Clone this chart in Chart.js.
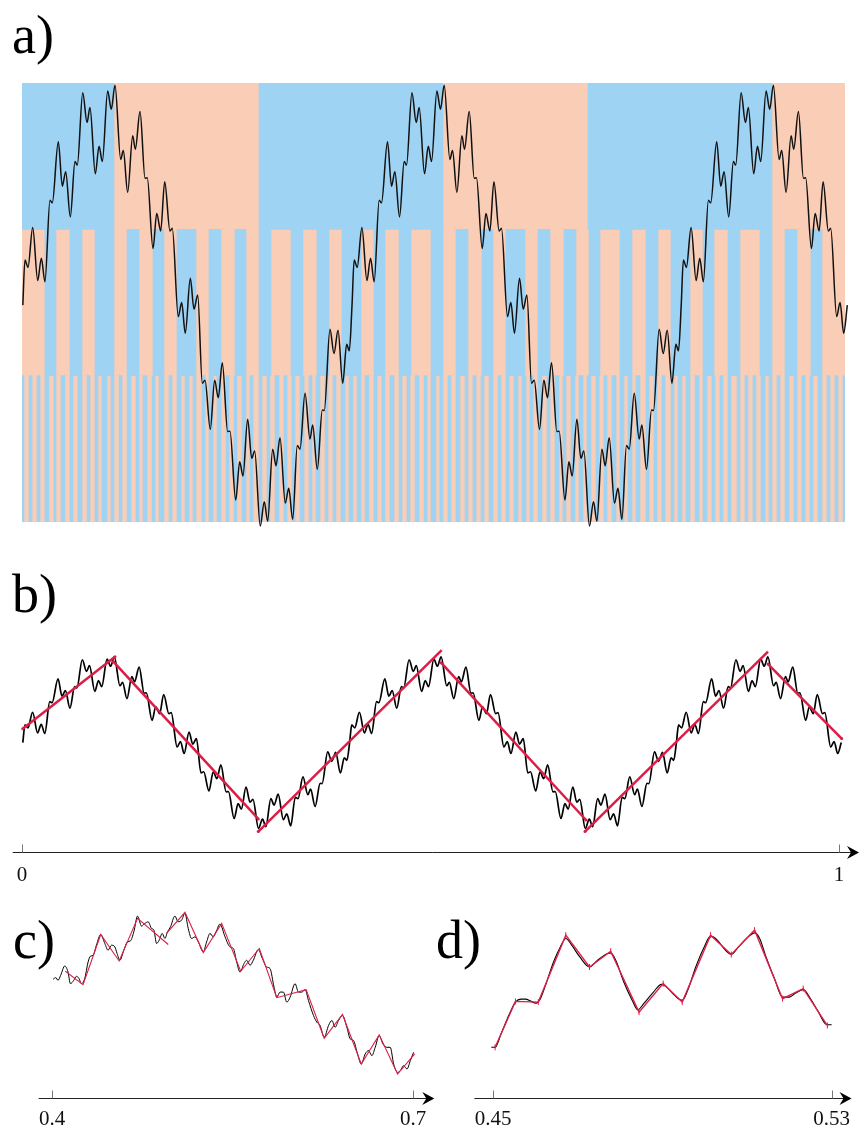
<!DOCTYPE html>
<html>
<head>
<meta charset="utf-8">
<script src="https://cdn.jsdelivr.net/npm/chart.js@4.4.1/dist/chart.umd.min.js"></script>
<style>
  body { margin: 0; width: 859px; height: 1132px; background: #fff; position: relative; overflow: hidden; font-family: 'Liberation Serif', 'Times New Roman', serif; }
  .box { position: absolute; }
  .lab { position: absolute; font-size: 54px; line-height: 54px; color: #000; }
</style>
</head>
<body>
<div class="lab" style="left:12px;top:8px">a)</div>
<div class="lab" style="left:12px;top:567px">b)</div>
<div class="lab" style="left:13px;top:913px">c)</div>
<div class="lab" style="left:436px;top:913px">d)</div>

<div class="box" style="left:12px;top:73px;width:845px;height:460px"><canvas id="bands"></canvas></div>
<div class="box" style="left:12px;top:73px;width:845px;height:460px"><canvas id="curveA"></canvas></div>
<div class="box" style="left:0px;top:630px;width:859px;height:269px"><canvas id="curveB"></canvas></div>
<div class="box" style="left:0px;top:880px;width:440px;height:261px"><canvas id="zoomC"></canvas></div>
<div class="box" style="left:440px;top:880px;width:419px;height:261px"><canvas id="zoomD"></canvas></div>

<script>
// the signal, read off panels a) and b)
const curveX = [
  0.001,0.0036,0.0073,0.0130,0.0191,0.0235,0.0279,0.0340,0.0368,0.0441,
  0.0490,0.0531,0.0587,0.0644,0.0672,0.0738,0.0790,0.0826,0.0891,0.0936,
  0.0976,0.1041,0.1085,0.1130,0.1199,0.1231,0.1284,0.1345,0.1377,0.1434,
  0.1495,0.1522,0.1592,0.1637,0.1685,0.1734,0.1798,0.1826,0.1899,0.1940,
  0.1984,0.2045,0.2090,0.2135,0.2191,0.2224,0.2288,0.2341,0.2385,0.2434,
  0.2499,0.2527,0.2597,0.2645,0.2685,0.2742,0.2791,0.2827,0.2895,0.2944,
  0.2985,0.3046,0.3086,0.3135,0.3199,0.3241,0.3289,0.3345,0.3378,0.3439,
  0.3499,0.3532,0.3588,0.3649,0.3673,0.3742,0.3791,0.3840,0.3897,0.3945,
  0.3977,
  0.401,0.4036,0.4073,0.4130,0.4191,0.4235,0.4279,0.4340,0.4368,0.4441,
  0.4490,0.4531,0.4587,0.4644,0.4672,0.4738,0.4790,0.4826,0.4891,0.4936,
  0.4976,0.5041,0.5085,0.5130,0.5199,0.5231,0.5284,0.5345,0.5377,0.5434,
  0.5495,0.5522,0.5592,0.5637,0.5685,0.5734,0.5798,0.5826,0.5899,0.5940,
  0.5984,0.6045,0.6090,0.6135,0.6191,0.6224,0.6288,0.6341,0.6385,0.6434,
  0.6499,0.6527,0.6597,0.6645,0.6685,0.6742,0.6791,0.6827,0.6895,0.6944,
  0.6985,0.7046,0.7086,0.7135,0.7199,0.7241,0.7289,0.7345,0.7378,0.7439,
  0.7499,0.7532,0.7588,0.7649,0.7673,0.7742,0.7791,0.7840,0.7897,0.7945,
  0.7977,
  0.801,0.8036,0.8073,0.8130,0.8191,0.8235,0.8279,0.8340,0.8368,0.8441,
  0.8490,0.8531,0.8587,0.8644,0.8672,0.8738,0.8790,0.8826,0.8891,0.8936,
  0.8976,0.9041,0.9085,0.9130,0.9199,0.9231,0.9284,0.9345,0.9377,0.9434,
  0.9495,0.9522,0.9592,0.9637,0.9685,0.9734,0.9798,0.9826,0.9899,0.9940,
  0.9984,1.0028
];
const curveY = [
  0.494,0.597,0.580,0.671,0.550,0.601,0.547,0.733,0.727,0.866,
  0.765,0.798,0.695,0.821,0.813,0.978,0.910,0.944,0.793,0.856,
  0.821,0.982,0.940,0.995,0.826,0.846,0.751,0.880,0.849,0.935,
  0.783,0.784,0.623,0.703,0.663,0.775,0.663,0.669,0.468,0.500,
  0.430,0.555,0.485,0.517,0.316,0.323,0.211,0.323,0.283,0.363,
  0.206,0.207,0.050,0.137,0.105,0.234,0.145,0.162,-0.009,0.046,
  0.002,0.166,0.128,0.192,0.043,0.077,0.006,0.174,0.166,0.293,
  0.189,0.221,0.120,0.255,0.254,0.439,0.384,0.437,0.316,0.405,
  0.390,
  0.494,0.597,0.580,0.671,0.550,0.601,0.547,0.733,0.727,0.866,
  0.765,0.798,0.695,0.821,0.813,0.978,0.910,0.944,0.793,0.856,
  0.821,0.982,0.940,0.995,0.826,0.846,0.751,0.880,0.849,0.935,
  0.783,0.784,0.623,0.703,0.663,0.775,0.663,0.669,0.468,0.500,
  0.430,0.555,0.485,0.517,0.316,0.323,0.211,0.323,0.283,0.363,
  0.206,0.207,0.050,0.137,0.105,0.234,0.145,0.162,-0.009,0.046,
  0.002,0.166,0.128,0.192,0.043,0.077,0.006,0.174,0.166,0.293,
  0.189,0.221,0.120,0.255,0.254,0.439,0.384,0.437,0.316,0.405,
  0.390,
  0.494,0.597,0.580,0.671,0.550,0.601,0.547,0.733,0.727,0.866,
  0.765,0.798,0.695,0.821,0.813,0.978,0.910,0.944,0.793,0.856,
  0.821,0.982,0.940,0.995,0.826,0.846,0.751,0.880,0.849,0.935,
  0.783,0.784,0.623,0.703,0.663,0.775,0.663,0.669,0.468,0.500,
  0.430,0.494
];

// rising intervals (blue) per level in panel a); the rest is orange
const topBlue = [[0, 0.1118], [0.288, 0.5115], [0.6877, 0.9113]];
const midBlue = [
  [0.0279,0.0413],[0.0583,0.0729],[0.0887,0.1118],[0.1276,0.1422],[0.1592,0.1725],
  [0.1883,0.2114],[0.2272,0.2418],[0.2588,0.2722],[0.2880,0.3026],[0.3269,0.3414],
  [0.3584,0.3730],[0.3888,0.4119],[0.4277,0.4411],[0.4581,0.4727],[0.4970,0.5115],
  [0.5273,0.5419],[0.5589,0.5723],[0.5881,0.6112],[0.6270,0.6416],[0.6586,0.6731],
  [0.6890,0.7023],[0.7266,0.7412],[0.7582,0.7728],[0.7886,0.8117],[0.8275,0.8408],
  [0.8578,0.8724],[0.8967,0.9113],[0.9271,0.9417],[0.9587,0.9720]
];
const lowBlue = [
  [0,0.0024],[0.0085,0.0122],[0.0182,0.0219],[0.0279,0.0328],[0.0389,0.0413],
  [0.0474,0.0522],[0.0583,0.0620],[0.0680,0.0729],[0.0790,0.0826],[0.0887,0.0923],
  [0.0972,0.1033],[0.1081,0.1118],[0.1179,0.1215],[0.1276,0.1324],[0.1385,0.1422],
  [0.1470,0.1519],[0.1580,0.1616],[0.1665,0.1725],[0.1786,0.1823],[0.1883,0.1932],
  [0.1981,0.2029],[0.2078,0.2114],[0.2187,0.2224],[0.2272,0.2321],[0.2369,0.2418],
  [0.2479,0.2515],[0.2576,0.2612],[0.2673,0.2722],[0.2770,0.2807],[0.2880,0.2916],
  [0.2977,0.3013],[0.3074,0.3123],[0.3184,0.3220],[0.3281,0.3317],[0.3378,0.3427],
  [0.3487,0.3524],[0.3572,0.3621],[0.3682,0.3718],[0.3779,0.3815],[0.3876,0.3925],
  [0.3973,0.4022],[0.4071,0.4119],[0.4168,0.4216],[0.4277,0.4314],[0.4374,0.4411],
  [0.4472,0.4520],[0.4581,0.4617],[0.4678,0.4714],[0.4775,0.4824],[0.4885,0.4921],
  [0.4970,0.5030],[0.5079,0.5115],[0.5176,0.5213],[0.5273,0.5322],[0.5383,0.5419],
  [0.5480,0.5517],[0.5577,0.5614],[0.5675,0.5723],[0.5784,0.5820],[0.5881,0.5918],
  [0.5978,0.6027],[0.6075,0.6124],[0.6173,0.6209],[0.6270,0.6318],[0.6379,0.6416],
  [0.6476,0.6525],[0.6573,0.6610],[0.6671,0.6719],[0.6768,0.6817],[0.6865,0.6914],
  [0.6975,0.7011],[0.7072,0.7108],[0.7169,0.7218],[0.7266,0.7315],[0.7363,0.7412],
  [0.7461,0.7509],[0.7582,0.7619],[0.7679,0.7716],[0.7776,0.7813],[0.7886,0.7922],
  [0.7971,0.8019],[0.8068,0.8117],[0.8177,0.8226],[0.8275,0.8323],[0.8384,0.8420],
  [0.8481,0.8518],[0.8578,0.8615],[0.8688,0.8724],[0.8785,0.8821],[0.8882,0.8918],
  [0.8979,0.9028],[0.9077,0.9113],[0.9174,0.9210],[0.9271,0.9320],[0.9380,0.9417],
  [0.9477,0.9514],[0.9575,0.9611],[0.9672,0.9720],[0.9781,0.9818],[0.9878,0.9915],
  [0.9976,1.0]
];
const rows = ['top', 'mid', 'bot'];

// piecewise linear fit in b)
const redBX = [[0.0009,0.1138],[0.1118,0.2892],[0.2892,0.5137],[0.5129,0.6903],[0.6891,0.9131],[0.9131,1.0033]];
const redBY = [[0.574,0.996],[0.967,0.047],[-0.027,1.035],[0.961,0.041],[-0.027,1.025],[0.953,0.517]];

// zoom c) on [0.4, 0.7]
const cCurveX = [
  0.4009,0.4031,0.4050,0.4072,0.4106,0.4133,0.4153,0.4181,0.4203,0.4225,
  0.4244,0.4272,0.4300,0.4319,0.4342,0.4369,0.4405,0.4439,0.4466,0.4494,
  0.4522,0.4541,0.4564,0.4597,0.4627,0.4652,0.4680,0.4711,0.4744,0.4772,
  0.4799,0.4827,0.4847,0.4869,0.4891,0.4916,0.4938,0.4960,0.4985,0.5021,
  0.5049,0.5077,0.5105,0.5132,0.5160,0.5188,0.5216,0.5257,0.5285,0.5313,
  0.5340,0.5363,0.5396,0.5438,0.5479,0.5507,0.5535,0.5562,0.5596,0.5618,
  0.5646,0.5673,0.5715,0.5743,0.5784,0.5812,0.5845,0.5868,0.5895,0.5923,
  0.5951,0.5979,0.6020,0.6048,0.6076,0.6104,0.6131,0.6173,0.6201,0.6228,
  0.6262,0.6298,0.6326,0.6353,0.6381,0.6414,0.6450,0.6478,0.6506,0.6539,
  0.6570,0.6603,0.6631,0.6658,0.6686,0.6719,0.6750,0.6783,0.6811,0.6839,
  0.6872,0.6894,0.6922,0.6950,0.6978,0.7005
];
const cCurveY = [
  1.18,1.197,1.17,1.22,1.313,1.253,1.137,1.17,1.21,1.187,
  1.137,1.187,1.353,1.41,1.42,1.52,1.627,1.537,1.47,1.52,
  1.503,1.437,1.37,1.47,1.553,1.563,1.653,1.81,1.71,1.737,
  1.753,1.687,1.67,1.537,1.57,1.637,1.587,1.653,1.703,1.81,
  1.753,1.77,1.837,1.687,1.587,1.603,1.553,1.453,1.553,1.637,
  1.603,1.653,1.73,1.603,1.503,1.487,1.353,1.253,1.337,1.37,
  1.32,1.37,1.477,1.403,1.303,1.287,1.103,1.003,1.053,1.053,
  0.953,1.003,1.137,1.053,1.053,1.077,0.97,0.82,0.753,0.72,
  0.603,0.72,0.77,0.703,0.77,0.82,0.703,0.587,0.57,0.437,
  0.337,0.437,0.47,0.42,0.503,0.62,0.537,0.503,0.503,0.337,
  0.253,0.27,0.32,0.287,0.37,0.453
];
const cRedX = [
  [0.4111,0.4258,0.4405,0.4558,0.4711,0.4966],
  [0.4952,0.5105,0.5257,0.5410,0.5568,0.5723,0.5868,0.6112,0.6262,0.6414,0.6570,0.6719,0.6872,0.7014]
];
const cRedY = [
  [1.26,1.127,1.627,1.363,1.787,1.527],
  [1.637,1.847,1.447,1.737,1.26,1.487,0.997,1.077,0.593,0.83,0.337,0.627,0.237,0.437]
];

// zoom d) on [0.45, 0.53]
const dCurveX = [
  0.4496,0.4505,0.4519,0.4539,0.4553,0.4566,0.4577,0.4589,0.4602,0.4612,
  0.4624,0.4643,0.4659,0.4672,0.4686,0.4705,0.4728,0.4747,0.4771,0.4778,
  0.4790,0.4809,0.4829,0.4842,0.4856,0.4879,0.4898,0.4910,0.4929,0.4947,
  0.4960,0.4979,0.4999,0.5014,0.5030,0.5049,0.5063,0.5080,0.5103,0.5118,
  0.5130,0.5145,0.5165,0.5184,0.5200,0.5215,0.5233,0.5250,0.5269,0.5288,
  0.5300
];
const dCurveY = [
  0.503,0.503,0.637,0.837,0.953,0.983,0.983,0.963,0.943,0.987,
  1.12,1.353,1.503,1.587,1.52,1.403,1.303,1.37,1.437,1.443,
  1.37,1.153,0.97,0.877,0.937,1.053,1.13,1.103,1.02,0.97,
  1.07,1.303,1.503,1.61,1.57,1.47,1.43,1.503,1.603,1.643,
  1.587,1.403,1.187,1.003,1.003,1.043,1.077,0.987,0.853,0.73,
  0.727
];
const dRedX = [0.4505,0.4553,0.4607,0.4672,0.4728,0.4778,0.4845,0.4902,0.4947,0.5014,0.5063,0.5118,0.5184,0.5233,0.5290];
const dRedY = [0.503,0.96,0.953,1.62,1.303,1.46,0.853,1.137,0.953,1.62,1.427,1.67,0.987,1.087,0.72];

const bTicks = [0, 1];
const cTicks = [0.4, 0.7];
const dTicks = [0.45, 0.53];

const BLUE = '#9ed3f3';
const PEACH = '#facdb6';
const RED = '#dc1e46';
const SERIF = "'Liberation Serif', 'Times New Roman', serif";

Chart.defaults.animation = false;
Chart.defaults.events = [];
Chart.defaults.font.family = SERIF;
Chart.defaults.plugins.legend.display = false;
Chart.defaults.plugins.tooltip.enabled = false;

const pts = (xs, ys) => xs.map((x, i) => ({ x: x, y: ys[i] }));

// axis line with arrow head and upward tick marks, at the bottom of the plot area
const arrowAxis = {
  id: 'arrowAxis',
  afterDraw(chart, args, opts) {
    const ctx = chart.ctx;
    const sx = chart.scales.x;
    const y0 = Math.round(chart.chartArea.bottom) + 0.5;
    const a = sx.getPixelForValue(opts.from);
    const b = sx.getPixelForValue(opts.to);
    ctx.save();
    ctx.strokeStyle = '#222';
    ctx.lineWidth = 1;
    ctx.beginPath();
    ctx.moveTo(a, y0);
    ctx.lineTo(b - 6, y0);
    ctx.stroke();
    ctx.strokeStyle = '#777';
    for (const v of opts.ticks) {
      const p = Math.round(sx.getPixelForValue(v)) + 0.5;
      ctx.beginPath();
      ctx.moveTo(p, y0 - 8);
      ctx.lineTo(p, y0);
      ctx.stroke();
    }
    ctx.fillStyle = '#000';
    ctx.beginPath();
    ctx.moveTo(b, y0);
    ctx.lineTo(b - 12, y0 - 6.5);
    ctx.lineTo(b - 8, y0);
    ctx.lineTo(b - 12, y0 + 6.5);
    ctx.closePath();
    ctx.fill();
    ctx.restore();
  }
};

// a) colour bands
const orangeRows = rows.map(r => ({ y: r, x: [0, 1] }));
const blueRows = []
  .concat(topBlue.map(iv => ({ y: 'top', x: iv })))
  .concat(midBlue.map(iv => ({ y: 'mid', x: iv })))
  .concat(lowBlue.map(iv => ({ y: 'bot', x: iv })));

new Chart(document.getElementById('bands'), {
  type: 'bar',
  data: {
    labels: rows,
    datasets: [
      { data: orangeRows, backgroundColor: PEACH, order: 1 },
      { data: blueRows, backgroundColor: BLUE, order: 0 }
    ]
  },
  options: {
    indexAxis: 'y',
    responsive: true,
    maintainAspectRatio: false,
    layout: { padding: { left: 10, top: 10, right: 12, bottom: 11 } },
    datasets: { bar: { grouped: false, barPercentage: 1, categoryPercentage: 1, borderWidth: 0 } },
    scales: {
      x: { type: 'linear', min: 0, max: 1, display: false },
      y: { type: 'category', display: false }
    }
  }
});

// a) curve
new Chart(document.getElementById('curveA'), {
  type: 'line',
  data: {
    datasets: [{
      data: pts(curveX, curveY), borderColor: '#111', borderWidth: 1.5,
      pointRadius: 0, cubicInterpolationMode: 'monotone', clip: false
    }]
  },
  options: {
    responsive: true,
    maintainAspectRatio: false,
    layout: { padding: { left: 10, top: 10, right: 12, bottom: 11 } },
    scales: {
      x: { type: 'linear', min: 0, max: 1, display: false },
      y: { type: 'linear', min: 0, max: 1, display: false }
    }
  }
});

function xAxis(min, max, ticks, pad) {
  return {
    type: 'linear', min: min, max: max,
    grid: { display: false, drawTicks: false },
    border: { display: false },
    afterBuildTicks: s => { s.ticks = ticks.map(v => ({ value: v })); },
    ticks: {
      autoSkip: false, maxRotation: 0, padding: pad, color: '#111',
      font: { family: SERIF, size: 21 },
      callback: v => String(v)
    }
  };
}

// b) curve with its linear pieces
const redB = redBX.map((xs, i) => ({
  data: pts(xs, redBY[i]), borderColor: RED, borderWidth: 2.5,
  pointRadius: 1.5, pointBackgroundColor: RED, pointBorderWidth: 0, clip: false, order: 0
}));
new Chart(document.getElementById('curveB'), {
  type: 'line',
  data: {
    datasets: redB.concat([{
      data: pts(curveX, curveY), borderColor: '#000', borderWidth: 1.7,
      pointRadius: 0, cubicInterpolationMode: 'monotone', clip: false, order: 1
    }])
  },
  options: {
    responsive: true,
    maintainAspectRatio: false,
    layout: { padding: { left: 22, top: 26, right: 20, bottom: 0 } },
    scales: {
      x: xAxis(0, 1, bTicks, 11),
      y: { type: 'linear', min: -0.145, max: 1, display: false }
    },
    plugins: { arrowAxis: { from: -0.0114, to: 1.0245, ticks: bTicks } }
  },
  plugins: [arrowAxis]
});

// c) zoom
const redC = cRedX.map((xs, i) => ({
  data: pts(xs, cRedY[i]), borderColor: RED, borderWidth: 1.1,
  pointRadius: 0, clip: false, order: 0
}));
new Chart(document.getElementById('zoomC'), {
  type: 'line',
  data: {
    datasets: redC.concat([{
      data: pts(cCurveX, cCurveY), borderColor: '#000', borderWidth: 1,
      pointRadius: 0, cubicInterpolationMode: 'monotone', clip: false, order: 1
    }])
  },
  options: {
    responsive: true,
    maintainAspectRatio: false,
    layout: { padding: { left: 52, top: 17, right: 27, bottom: 0 } },
    scales: {
      x: xAxis(0.4, 0.7, cTicks, 9),
      y: { type: 'linear', min: 0, max: 2, display: false }
    },
    plugins: { arrowAxis: { from: 0.3889, to: 0.7177, ticks: cTicks } }
  },
  plugins: [arrowAxis]
});

// d) zoom
new Chart(document.getElementById('zoomD'), {
  type: 'line',
  data: {
    datasets: [{
      data: pts(dRedX, dRedY), borderColor: RED, borderWidth: 1.4,
      pointStyle: 'line', rotation: 90, pointRadius: 3, pointBorderColor: RED,
      pointBorderWidth: 1, clip: false, order: 0
    }, {
      data: pts(dCurveX, dCurveY), borderColor: '#000', borderWidth: 1.1,
      pointRadius: 0, cubicInterpolationMode: 'monotone', clip: false, order: 1
    }]
  },
  options: {
    responsive: true,
    maintainAspectRatio: false,
    layout: { padding: { left: 53, top: 17, right: 21, bottom: 0 } },
    scales: {
      x: xAxis(0.45, 0.53, dTicks, 9),
      y: { type: 'linear', min: 0, max: 2, display: false }
    },
    plugins: { arrowAxis: { from: 0.4456, to: 0.5347, ticks: dTicks } }
  },
  plugins: [arrowAxis]
});
</script>
</body>
</html>
